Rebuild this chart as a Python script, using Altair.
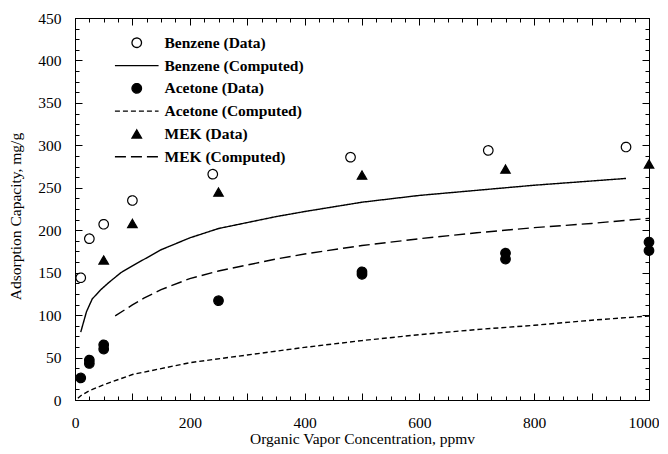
import altair as alt
import pandas as pd

# ---------------- data ----------------
series_names = ["Benzene (Data)", "Benzene (Computed)", "Acetone (Data)",
                "Acetone (Computed)", "MEK (Data)", "MEK (Computed)"]

benzene_x = [10, 25, 50, 100, 240, 480, 720, 960]
benzene_y = [144, 190, 207, 235, 266, 286, 294, 298]

acetone_x = [10, 25, 25, 50, 50, 250, 500, 500, 750, 750, 1000, 1000]
acetone_y = [26, 47, 43, 65, 60, 117, 151, 148, 173, 166, 186, 176]

mek_x = [50, 100, 250, 500, 750, 1000]
mek_y = [165, 208, 245, 265, 272, 278]

benzene_calc_x = [10, 20, 30, 45, 60, 80, 100, 150, 200, 250, 300, 350, 400, 500, 600, 700, 800, 900, 960]
benzene_calc_y = [80, 104, 119, 130, 139, 150, 158, 177, 191, 202, 209, 216, 222, 233, 241, 247, 253, 258, 261]

acetone_calc_x = [5, 10, 25, 50, 100, 150, 200, 300, 400, 500, 600, 700, 800, 900, 1000]
acetone_calc_y = [2, 5, 11, 18, 30, 37, 44, 53, 62, 70, 77, 83, 88, 94, 99]

mek_calc_x = [70, 100, 120, 150, 200, 250, 300, 350, 400, 500, 600, 700, 800, 900, 1000]
mek_calc_y = [99, 112, 120, 130, 143, 152, 159, 166, 172, 182, 190, 197, 203, 208, 214]

x_tick_labels = [0, 200, 400, 600, 800, 1000]
y_tick_labels = [0, 50, 100, 150, 200, 250, 300, 350, 400, 450]
x_major_ticks = [0, 100, 200, 300, 400, 500, 600, 700, 800, 900, 1000]
x_minor_ticks = [v for v in range(25, 1000, 25) if v % 100 != 0]
y_major_ticks = [0, 50, 100, 150, 200, 250, 300, 350, 400, 450]
y_minor_ticks = [v / 2 for v in range(25, 900, 25) if v % 100 != 0]

# ---------------- tables ----------------
pts = pd.DataFrame({
    "x": benzene_x + acetone_x + mek_x,
    "y": benzene_y + acetone_y + mek_y,
    "series": [series_names[0]] * len(benzene_x) + [series_names[2]] * len(acetone_x)
              + [series_names[4]] * len(mek_x),
})
lines = pd.DataFrame({
    "x": benzene_calc_x + acetone_calc_x + mek_calc_x,
    "y": benzene_calc_y + acetone_calc_y + mek_calc_y,
    "series": [series_names[1]] * len(benzene_calc_x) + [series_names[3]] * len(acetone_calc_x)
              + [series_names[5]] * len(mek_calc_x),
})

W, H = 574, 382
FONT = "Liberation Serif"
xscale = alt.Scale(domain=[0, 1000], nice=False, zero=False)
yscale = alt.Scale(domain=[0, 450], nice=False, zero=False)

LINE_PATH = "M-4.6,0H4.6"
legend = alt.Legend(
    title=None, orient="none", legendX=54, legendY=17, padding=0,
    labelFont=FONT, labelFontSize=15.5, labelFontWeight="bold", labelColor="black",
    labelOffset=20, rowPadding=5.8, symbolSize=90, symbolStrokeWidth=1.3,
    symbolStrokeColor="black", symbolOpacity=1,
)
color_scale = alt.Scale(domain=series_names,
                        range=["white", "black", "black", "black", "black", "black"])
stroke_scale = alt.Scale(domain=series_names,
                         range=["black", "black", "black", "black", "black", "black"])
shape_scale = alt.Scale(domain=series_names,
                        range=["circle", LINE_PATH, "circle", LINE_PATH, "triangle-up", LINE_PATH])
dash_scale = alt.Scale(domain=series_names,
                       range=[[1, 0], [1, 0], [1, 0], [5, 3], [1, 0], [11, 5]])

MAJOR, MINOR = 7, 4

x_axis = alt.Axis(orient="bottom", values=x_major_ticks,
                  labelExpr="datum.value % 200 == 0 ? format(datum.value, 'd') : ''",
                  title="Organic Vapor Concentration, ppmv",
                  grid=False, ticks=True, tickSize=alt.ExprRef(str(-MAJOR)), tickColor="black",
                  tickWidth=1, domain=True, domainColor="black", domainWidth=1, labelFlush=False,
                  labelFont=FONT, labelFontSize=15.5, labelColor="black", labelPadding=15 + MAJOR,
                  labelAlign={"expr": "datum.value == 1000 ? 'right' : 'center'"},
                  labelOffset={"expr": "datum.value == 1000 ? 10 : 0"},
                  titleFont=FONT, titleFontSize=15.5, titleFontWeight="normal", titleColor="black",
                  titleY=43, titleBaseline="alphabetic")
y_axis = alt.Axis(orient="left", values=y_major_ticks, title="Adsorption Capacity, mg/g", format="d",
                  grid=False, ticks=True, tickSize=alt.ExprRef(str(-MAJOR)), tickColor="black",
                  tickWidth=1, domain=True, domainColor="black", domainWidth=1, labelFlush=False,
                  labelFont=FONT, labelFontSize=15.5, labelColor="black", labelPadding=14 + MAJOR,
                  labelBaseline="middle",
                  titleFont=FONT, titleFontSize=15.5, titleFontWeight="normal", titleColor="black",
                  titleAngle=270, titleBaseline="alphabetic", titleAlign="center",
                  titleX=-55, titleY=198)


def frame_axis(orient, values, size, domain):
    return alt.Axis(orient=orient, values=values, labels=False, title=None, grid=False,
                    domain=domain, domainColor="black", domainWidth=1,
                    ticks=True, tickSize=alt.ExprRef(str(-size)), tickColor="black", tickWidth=1)


points = alt.Chart(pts).mark_point(filled=True, strokeWidth=1.2, size=90, opacity=1).encode(
    x=alt.X("x:Q", scale=xscale, axis=x_axis),
    y=alt.Y("y:Q", scale=yscale, axis=y_axis),
    color=alt.Color("series:N", scale=color_scale, legend=legend),
    stroke=alt.Stroke("series:N", scale=stroke_scale, legend=legend),
    shape=alt.Shape("series:N", scale=shape_scale, legend=legend),
    strokeDash=alt.StrokeDash("series:N", scale=dash_scale, legend=legend),
)

curves = alt.Chart(lines).mark_line(color="black", strokeWidth=1.4).encode(
    x=alt.X("x:Q", scale=xscale, axis=x_axis),
    y=alt.Y("y:Q", scale=yscale, axis=y_axis),
    strokeDash=alt.StrokeDash("series:N", scale=dash_scale, legend=legend),
    order=alt.Order("x:Q"),
)

main = alt.layer(points, curves)


def guide_layer(xax, yax):
    # carries only extra axes (inward ticks / frame sides); its marks are invisible
    return alt.Chart(pts).mark_point(opacity=0, size=1).encode(
        x=alt.X("x:Q", scale=xscale, axis=xax),
        y=alt.Y("y:Q", scale=yscale, axis=yax),
    )


minor_bl = guide_layer(frame_axis("bottom", x_minor_ticks, MINOR, False),
                       frame_axis("left", y_minor_ticks, MINOR, False))
major_tr = guide_layer(frame_axis("top", x_major_ticks, MAJOR, True),
                       frame_axis("right", y_major_ticks, MAJOR, True))
minor_tr = guide_layer(frame_axis("top", x_minor_ticks, MINOR, False),
                       frame_axis("right", y_minor_ticks, MINOR, False))

chart = alt.layer(main, minor_bl, major_tr, minor_tr).resolve_axis(
    x="independent", y="independent"
).properties(
    width=W, height=H, background="white",
    padding={"left": 0, "top": 3, "right": 0, "bottom": 0},
).configure_view(stroke="black", strokeWidth=1)

chart.save("out.html", embed_options={"renderer": "svg", "actions": False})
